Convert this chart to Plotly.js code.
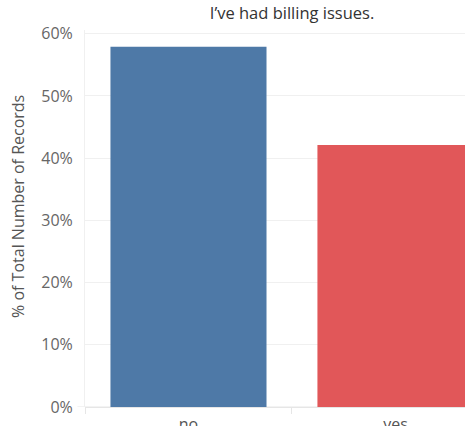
<!DOCTYPE html>
<html>
<head>
<meta charset="utf-8">
<script src="https://cdn.plot.ly/plotly-3.0.1.min.js"></script>
<style>
html,body{margin:0;padding:0;overflow:hidden;background:#fff;}
#chart{width:465px;height:426px;}
</style>
</head>
<body>
<div id="chart"></div>
<script>
var categories = ["no", "yes"];
var shares = [0.579, 0.421];
var barColors = ["#4e79a7", "#e15759"];
var yTickVals = [0, 0.1, 0.2, 0.3, 0.4, 0.5, 0.6];
var yTickText = ["0%", "10%", "20%", "30%", "40%", "50%", "60%"];
var yTitle = "% of Total Number of Records";
var chartTitle = "I\u2019ve had billing issues.";

var FONT = "'Open Sans', Lato, sans-serif";

var data = [{
  type: "bar",
  x: categories,
  y: shares,
  marker: {color: barColors, line: {width: 0}},
  hoverinfo: "none"
}];

var layout = {
  width: 465,
  height: 426,
  margin: {l: 85, r: 0, t: 30, b: 18.5, pad: 0},
  paper_bgcolor: "#ffffff",
  plot_bgcolor: "#ffffff",
  font: {family: FONT, color: "#666666", size: 15},
  title: {
    text: chartTitle,
    font: {family: FONT, size: 16.5, color: "#333333"},
    xref: "container", x: 0.628, xanchor: "center",
    yref: "container", y: 0.982, yanchor: "top"
  },
  bargap: 0.246,
  showlegend: false,
  xaxis: {
    type: "category",
    range: [-0.5, 1.336],
    tickson: "boundaries",
    ticks: "outside",
    ticklen: 6,
    tickcolor: "#e6e6e6",
    ticklabelstandoff: 6,
    showgrid: false,
    showline: false,
    zeroline: false,
    tickfont: {family: FONT, size: 16, color: "#555555"},
    fixedrange: true
  },
  yaxis: {
    range: [0, 0.606],
    tickvals: yTickVals,
    ticktext: yTickText,
    showgrid: true,
    gridcolor: "#f0f0f0",
    gridwidth: 1,
    zeroline: true,
    zerolinecolor: "#e6e6e6",
    zerolinewidth: 1,
    showline: true,
    linecolor: "#f0f0f0",
    linewidth: 1,
    ticks: "",
    ticklabelstandoff: 8,
    tickfont: {family: FONT, size: 16, color: "#666666"},
    fixedrange: true
  },
  annotations: [{
    text: yTitle,
    textangle: -90,
    xref: "paper", yref: "paper",
    x: -0.176, y: 0.531,
    xanchor: "center", yanchor: "middle",
    showarrow: false,
    font: {family: FONT, size: 16, color: "#555555"}
  }],
  shapes: [{
    type: "line", xref: "paper", yref: "y",
    x0: -0.02, x1: 1, y0: 0, y1: 0,
    line: {color: "#e6e6e6", width: 1},
    layer: "below"
  }]
};

Plotly.newPlot("chart", data, layout, {displayModeBar: false, staticPlot: true});
</script>
</body>
</html>
